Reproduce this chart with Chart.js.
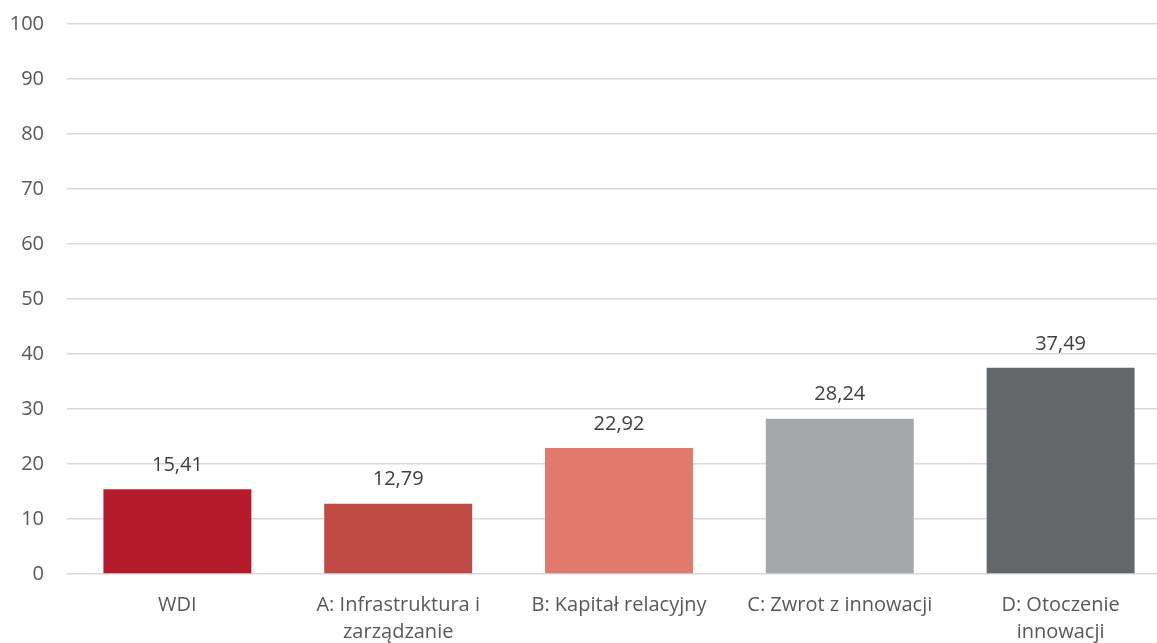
<!DOCTYPE html>
<html lang="pl">
<head>
    <meta charset="UTF-8">
    <title>WDI</title>
    <script src="https://cdn.jsdelivr.net/npm/chart.js"></script>
    <style>
        html, body {
            margin: 0;
            padding: 0;
            background: #fff;
            overflow: hidden;
        }
        .chart-container {
            width: 1172px;
            height: 643px;
            position: relative;
        }
    </style>
</head>
<body>
    <div class="chart-container">
        <canvas id="wdiChart"></canvas>
    </div>

    <script>
        const categories = [
            'WDI',
            ['A: Infrastruktura i', 'zarządzanie'],
            'B: Kapitał relacyjny',
            'C: Zwrot z innowacji',
            ['D: Otoczenie', 'innowacji']
        ];
        const values = [15.41, 12.79, 22.92, 28.24, 37.49];
        const barColors = ['#b51b2a', '#c04b46', '#e1796d', '#a5a8ab', '#63676a'];
        const yTicks = [0, 10, 20, 30, 40, 50, 60, 70, 80, 90, 100];

        const fontFamily = '"Open Sans", "Liberation Sans", sans-serif';

        // etykiety wartości nad słupkami
        const valueLabels = {
            id: 'valueLabels',
            afterDatasetsDraw(chart) {
                const ctx = chart.ctx;
                const meta = chart.getDatasetMeta(0);
                ctx.save();
                ctx.font = '20px ' + fontFamily;
                ctx.fillStyle = '#404040';
                ctx.textAlign = 'center';
                ctx.textBaseline = 'middle';
                meta.data.forEach((bar, i) => {
                    const txt = values[i].toFixed(2).replace('.', ',');
                    ctx.fillText(txt, bar.x, bar.y - 24);
                });
                ctx.restore();
            }
        };

        const ctx = document.getElementById('wdiChart').getContext('2d');
        new Chart(ctx, {
            type: 'bar',
            data: {
                labels: categories,
                datasets: [{
                    data: values,
                    backgroundColor: barColors,
                    borderWidth: 0,
                    categoryPercentage: 1,
                    barPercentage: 0.67
                }]
            },
            options: {
                responsive: true,
                maintainAspectRatio: false,
                animation: false,
                layout: {
                    padding: { top: 24, right: 1, left: 0, bottom: 0 }
                },
                scales: {
                    x: {
                        grid: { display: false },
                        border: { display: false },
                        ticks: {
                            color: '#595959',
                            padding: 10,
                            maxRotation: 0,
                            autoSkip: false,
                            font: { family: fontFamily, size: 20, lineHeight: 1.35 }
                        },
                        afterFit(scale) {
                            scale.height = 69;
                            scale.paddingLeft = 0;
                            scale.paddingRight = 0;
                        }
                    },
                    y: {
                        min: 0,
                        max: 100,
                        afterBuildTicks(scale) {
                            scale.ticks = yTicks.map(v => ({ value: v }));
                        },
                        grid: {
                            color: '#d9d9d9',
                            lineWidth: 1.5,
                            drawTicks: false
                        },
                        border: { display: false },
                        ticks: {
                            color: '#595959',
                            padding: 23,
                            font: { family: fontFamily, size: 20 }
                        },
                        afterFit(scale) {
                            scale.width = 67;
                            scale.paddingTop = 0;
                            scale.paddingBottom = 0;
                        }
                    }
                },
                plugins: {
                    legend: { display: false },
                    tooltip: { enabled: false }
                }
            },
            plugins: [valueLabels]
        });
    </script>
</body>
</html>
